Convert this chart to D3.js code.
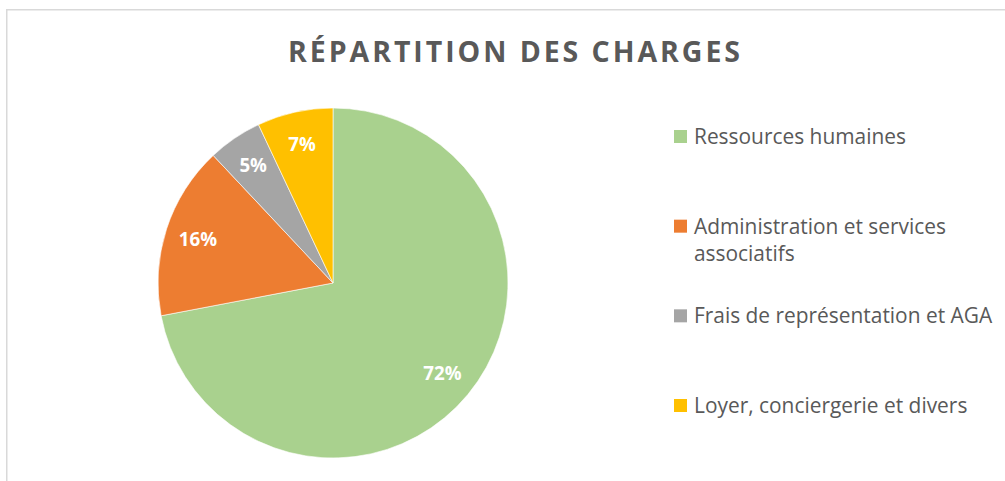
<!DOCTYPE html>
<html>
<head>
<meta charset="utf-8">
<script src="https://cdn.jsdelivr.net/npm/d3@7"></script>
<style>
  html, body { margin: 0; padding: 0; background: #fff; }
  svg { display: block; }
</style>
</head>
<body>
<svg id="chart" width="1005" height="481"></svg>
<script>
const title = "RÉPARTITION DES CHARGES";
const categories = ["Ressources humaines", "Administration et services associatifs", "Frais de représentation et AGA", "Loyer, conciergerie et divers"];
const legendLines = [["Ressources humaines"], ["Administration et services", "associatifs"], ["Frais de représentation et AGA"], ["Loyer, conciergerie et divers"]];
const values = [72, 16, 5, 7];
const colors = ["#A9D18E", "#ED7D31", "#A5A5A5", "#FFC000"];

const svg = d3.select("#chart");

// chart frame
svg.append("rect")
  .attr("x", 6.75).attr("y", 9.75)
  .attr("width", 1100).attr("height", 600)
  .attr("fill", "#fff")
  .attr("stroke", "#d9d9d9").attr("stroke-width", 1.5);

// title
svg.append("text")
  .attr("x", 514).attr("y", 62)
  .attr("text-anchor", "middle")
  .attr("font-family", "'Open Sans', sans-serif")
  .attr("font-weight", "bold")
  .attr("font-size", 28.5)
  .attr("fill", "#595959")
  .attr("textLength", 452)
  .attr("lengthAdjust", "spacing")
  .text(title);

const cx = 333, cy = 283, r = 175;
const pie = d3.pie().sort(null).value(d => d)(values);
const arc = d3.arc().innerRadius(0).outerRadius(r);
const labelArc = d3.arc().innerRadius(142).outerRadius(142);

const g = svg.append("g").attr("transform", `translate(${cx},${cy})`);
g.selectAll("path").data(pie).join("path")
  .attr("d", arc)
  .attr("fill", (d, i) => colors[i])
  .attr("stroke", "#fff").attr("stroke-width", 0.6);

g.selectAll("text.lbl").data(pie).join("text")
  .attr("class", "lbl")
  .attr("transform", d => `translate(${labelArc.centroid(d)})`)
  .attr("text-anchor", "middle")
  .attr("dy", "0.35em")
  .attr("font-family", "'Open Sans', sans-serif")
  .attr("font-weight", "bold")
  .attr("font-size", 18.7)
  .attr("fill", "#fff")
  .text(d => d.data + "%");

// legend
const legendY = d3.scalePoint().domain(categories).range([144, 413]);
const lg = svg.append("g");
categories.forEach((c, i) => {
  const y = legendY(c);
  lg.append("rect")
    .attr("x", 674).attr("y", y - 14)
    .attr("width", 13).attr("height", 13)
    .attr("fill", colors[i]);
  const txt = lg.append("text")
    .attr("x", 694).attr("y", y)
    .attr("font-family", "'Open Sans', sans-serif")
    .attr("font-size", 20.9)
    .attr("fill", "#595959");
  legendLines[i].forEach((line, j) => {
    txt.append("tspan").attr("x", 694).attr("dy", j === 0 ? 0 : 27.5).text(line);
  });
});
</script>
</body>
</html>
